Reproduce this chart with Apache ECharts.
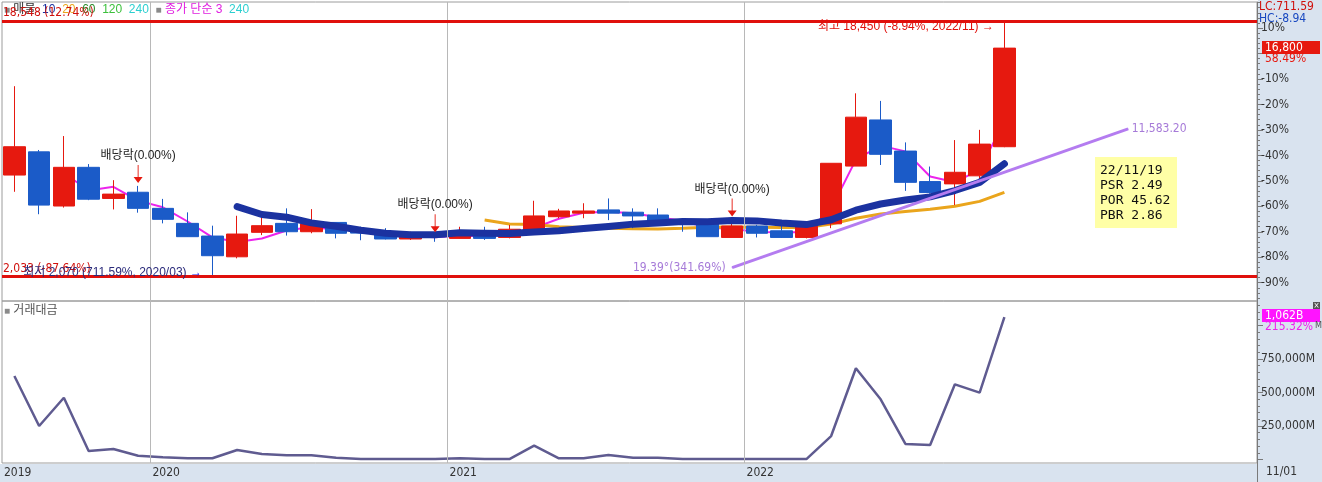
<!DOCTYPE html>
<html><head><meta charset="utf-8">
<script src="https://cdn.jsdelivr.net/npm/echarts@6/dist/echarts.min.js"></script>
<style>html,body{margin:0;padding:0;background:#fff}#c{width:1322px;height:482px}</style>
</head><body><div id="c"></div>
<script>
// ---------- data ----------
const months = ['2019/07','2019/08','2019/09','2019/10','2019/11','2019/12',
  '2020/01','2020/02','2020/03','2020/04','2020/05','2020/06','2020/07','2020/08','2020/09','2020/10','2020/11','2020/12',
  '2021/01','2021/02','2021/03','2021/04','2021/05','2021/06','2021/07','2021/08','2021/09','2021/10','2021/11','2021/12',
  '2022/01','2022/02','2022/03','2022/04','2022/05','2022/06','2022/07','2022/08','2022/09','2022/10','2022/11'];
const openP  = [8600,10100,6600,9100,7090,7490,6450,5480,4660,3320,4900,5480,4940,5540,5020,4840,4470,4700,4510,5000,4570,5050,5910,6140,6350,6200,6020,5690,5450,4570,5310,5000,4570,5450,9180,12160,10150,8180,8030,8550,10430];
const closeP = [10430,6660,9100,7040,7370,6450,5740,4620,3390,4790,5330,4940,5450,4840,4850,4470,4690,4610,4770,4510,5100,5960,6280,6280,6140,5960,5530,5460,4620,5310,4840,4570,5310,9360,12340,9940,8130,7470,8780,10600,16800];
const lowP   = [7520,6070,6500,6980,6380,6170,5480,4600,2070,3220,4720,4690,4840,4510,4390,4440,4410,4290,4500,4410,4510,4870,5810,5810,5690,5170,5380,4940,4620,4570,4570,4540,4510,5170,9180,9250,7580,7400,6660,8270,10400];
const highP  = [14340,10220,11120,9310,8270,7900,7060,6190,5330,5970,6140,6450,6400,5540,5260,5170,4940,4720,5260,5260,5380,6940,6420,6780,7090,6450,6450,5690,5450,5730,5380,5310,5590,9360,13880,13390,10710,9150,10860,11520,18450];
const ma3  = [null,null,8730,7600,7840,6950,6520,5600,4580,4270,4500,5020,5240,5070,5050,4720,4670,4590,4690,4630,4790,5190,5780,6170,6230,6130,5870,5650,5200,5130,4920,4910,4910,6420,9600,10500,10130,8510,8130,8950,12070];
const ma10 = [null,null,null,null,null,null,null,null,null,6560,6050,5880,5510,5290,5040,4840,4740,4740,4870,4840,4820,4920,5010,5150,5280,5430,5510,5600,5580,5660,5640,5500,5400,5710,6330,6730,6990,7190,7600,8130,9330];
const ma20 = [null,null,null,null,null,null,null,null,null,null,null,null,null,null,null,null,null,null,null,5700,5440,5400,5260,5220,5160,5140,5120,5170,5230,5250,5230,5210,5210,5430,5810,6080,6250,6390,6590,6900,7480];
const tradeValue = [623000,250000,461000,63000,78000,28000,16000,9000,9000,71000,41000,31000,31000,13000,4000,3000,3000,3000,9000,3000,3000,103000,9000,9000,34000,13000,13000,3000,3000,3000,3000,3000,3000,175000,681000,449000,116000,108000,561000,499000,1062000];
const yearLabels = ['2019','2020','2021','2022'];
const yearStartIdx = [0,6,18,30];
const dividendIdx = [5,17,29];
const trendIdx = [29,45];
const trendVal = [2622.5,11583.2];
const topLinePrice = 18548, bottomLinePrice = 2033;
const highestIdx = 40, lowestIdx = 8;
const basePrice = 16452;
const pctSteps = [-90,-80,-70,-60,-50,-40,-30,-20,-10,0,10];
const volSteps = [250000,500000,750000];
const infoLines = ['22/11/19','PSR 2.49','POR 45.62','PBR 2.86'];

// ---------- helpers ----------
const NUM = "'Liberation Sans Narrow','DejaVu Sans Condensed','Liberation Sans','Noto Sans CJK KR',sans-serif";
const KOR = "'Liberation Sans Narrow','Liberation Sans','Noto Sans CJK KR',sans-serif";
const RED = '#e6190f', BLUE = '#1b5bc8', PANEL = '#d9e3ef';
const fmt = v => v.toLocaleString('en-US');
const pct = (a,b) => ((a/b-1)*100).toFixed(2) + '%';
const xMin = -0.5, xMax = 50.206;
const yMin0 = 465, yMax0 = 19779;
const yMin1 = -26119, yMax1 = 1182836;
const yearBounds = yearStartIdx.map(i => i - 0.5);
const majorTicks = pctSteps.map(p => basePrice*(1+p/100));
const labelTicks = pctSteps.filter(p => p !== 0).map(p => basePrice*(1+p/100));
const minorTicks = []; for (let k=-48;k<=10;k++) minorTicks.push(basePrice*(1+k/50));
const volMinor = []; for (let v=0; v<=1150000; v+=50000) volMinor.push(v);
const volMajor = [0].concat(volSteps, [1000000]);

const candleData = months.map((m,i)=>[i, openP[i], closeP[i], lowP[i], highP[i]]);
const toXY = arr => arr.map((v,i)=> v==null ? [i,null] : [i,v]);
const lastClose = closeP[closeP.length-1];

const yearLineMark = {
  silent:true, symbol:['none','none'], label:{show:false},
  lineStyle:{color:'#b8b8b8', width:1, type:'solid'},
  data: yearBounds.slice(1).map(b=>({xAxis:b}))
};

const arrowPath = 'path://M4.5,0L5.5,0L5.5,12L10,12L5,18L0,12L4.5,12Z';
const offLine = {show:false, onZero:false};

const option = {
  animation:false,
  backgroundColor:'#ffffff',
  textStyle:{fontFamily:NUM},
  grid:[
    {left:2, top:2, width:1255, height:299, show:true, borderColor:'#9c9c9c', borderWidth:1},
    {left:2, top:301, width:1255, height:162, show:true, borderColor:'#9c9c9c', borderWidth:1},
    {left:2, top:2, width:1255, height:299, show:false},
    {left:2, top:301, width:1255, height:162, show:false}
  ],
  xAxis:[
    {type:'value', gridIndex:0, min:xMin, max:xMax, show:false, axisLine:offLine},
    {type:'value', gridIndex:1, min:xMin, max:xMax, position:'bottom',
      axisLine:offLine, axisTick:{show:false}, splitLine:{show:false},
      axisLabel:{customValues:yearBounds, formatter:v=>{const k=yearBounds.findIndex(b=>Math.abs(b-v)<1e-6);return k>=0?yearLabels[k]:'';},
        align:'left', margin:4, color:'#333', fontSize:12, fontFamily:NUM, padding:[0,0,0,2]}},
    {type:'value', gridIndex:2, min:xMin, max:xMax, show:false, axisLine:offLine},
    {type:'value', gridIndex:3, min:xMin, max:xMax, show:false, axisLine:offLine}
  ],
  yAxis:[
    {type:'value', gridIndex:0, position:'right', min:yMin0, max:yMax0, splitLine:{show:false},
      axisLine:{show:true, onZero:false, lineStyle:{color:'#7a7a7a'}},
      axisTick:{show:true, length:6, customValues:majorTicks, lineStyle:{color:'#7a7a7a'}},
      axisLabel:{customValues:labelTicks, formatter:v=>Math.round((v/basePrice-1)*100)+'%', color:'#333', fontSize:12, margin:4, fontFamily:NUM}},
    {type:'value', gridIndex:1, position:'right', min:yMin1, max:yMax1, splitLine:{show:false},
      axisLine:{show:true, onZero:false, lineStyle:{color:'#7a7a7a'}},
      axisTick:{show:true, length:6, customValues:volMajor, lineStyle:{color:'#7a7a7a'}},
      axisLabel:{customValues:volSteps, formatter:v=>fmt(v)+'M', color:'#333', fontSize:12, margin:4, fontFamily:NUM}},
    {type:'value', gridIndex:2, position:'right', min:yMin0, max:yMax0, splitLine:{show:false},
      axisLine:offLine, axisLabel:{show:false},
      axisTick:{show:true, length:3, customValues:minorTicks, lineStyle:{color:'#7a7a7a'}}},
    {type:'value', gridIndex:3, position:'right', min:yMin1, max:yMax1, splitLine:{show:false},
      axisLine:offLine, axisLabel:{show:false},
      axisTick:{show:true, length:3, customValues:volMinor, lineStyle:{color:'#7a7a7a'}}}
  ],
  series:[
    {name:'종가 단순 3', type:'line', xAxisIndex:0, yAxisIndex:0, data:toXY(ma3), symbol:'none', z:1,
      lineStyle:{color:'#ec24ec', width:2}, markLine:yearLineMark},
    {name:'20', type:'line', xAxisIndex:0, yAxisIndex:0, data:toXY(ma20), symbol:'none', z:1,
      lineStyle:{color:'#eaa51c', width:3}},
    {name:'가격', type:'candlestick', xAxisIndex:0, yAxisIndex:0, data:candleData,
      encode:{x:0, y:[1,2,3,4]}, barWidth:22, z:2,
      itemStyle:{color:RED, color0:BLUE, borderColor:RED, borderColor0:BLUE, borderWidth:1},
      markLine:{silent:true, symbol:['none','none'],
        lineStyle:{color:'#e0100c', width:3, type:'solid'},
        label:{show:true, position:'insideStartTop', color:'#d0100c', fontSize:12, fontFamily:NUM, distance:[1,2]},
        data:[
          {yAxis:topLinePrice, label:{formatter:fmt(topLinePrice)+' ('+pct(topLinePrice,basePrice)+')'}},
          {yAxis:bottomLinePrice, label:{formatter:fmt(bottomLinePrice)+' ('+pct(bottomLinePrice,basePrice)+')'}}
        ]},
      markPoint:{silent:true, data:[
        ...dividendIdx.map(i=>({coord:[i, highP[i]], symbol:arrowPath, symbolSize:[9,18], symbolOffset:[0,-12],
          itemStyle:{color:RED},
          label:{show:true, position:'top', distance:3, formatter:'배당락(0.00%)', color:'#222', fontSize:12, fontFamily:KOR}})),
        {coord:[highestIdx, highP[highestIdx]], symbol:'circle', symbolSize:1, itemStyle:{color:'rgba(0,0,0,0)'},
          label:{show:true, position:'left', distance:10, offset:[0,4], color:'#e0100c', fontSize:12, fontFamily:KOR,
            formatter:'최고 '+fmt(highP[highestIdx])+' ('+pct(lastClose,highP[highestIdx])+', '+months[highestIdx]+') →'}},
        {coord:[lowestIdx, lowP[lowestIdx]], symbol:'circle', symbolSize:1, itemStyle:{color:'rgba(0,0,0,0)'},
          label:{show:true, position:'left', distance:10, offset:[0,-3], color:'#2a2a7a', fontSize:12, fontFamily:KOR,
            formatter:'최저 '+fmt(lowP[lowestIdx])+' ('+pct(lastClose,lowP[lowestIdx])+', '+months[lowestIdx]+') {a|→}',
            rich:{a:{color:'#1414e0', fontSize:12}}}}
      ]}},
    {name:'10', type:'line', xAxisIndex:0, yAxisIndex:0, data:toXY(ma10), symbol:'none', z:3,
      lineStyle:{color:'#1b32a0', width:7, cap:'round', join:'round'}},
    {name:'trend', type:'line', xAxisIndex:0, yAxisIndex:0, z:4, symbol:'circle', symbolSize:1, showSymbol:true,
      itemStyle:{color:'#b47cf0'}, lineStyle:{color:'#b47cf0', width:3},
      label:{color:'#a67ad8', fontSize:12, fontFamily:NUM},
      data:trendIdx.map((x,i)=>({value:[x, trendVal[i]],
        label:{show:true, position:i===0?'left':'right', distance:i===0?6:3,
          formatter:i===0 ? '19.39°('+pct(trendVal[1],trendVal[0])+')' : trendVal[1].toLocaleString('en-US',{minimumFractionDigits:2})}}))},
    {name:'거래대금', type:'line', xAxisIndex:1, yAxisIndex:1, data:toXY(tradeValue), symbol:'none', z:2,
      lineStyle:{color:'#5f5b90', width:2.5}, markLine:yearLineMark}
  ],
  graphic:[
    {type:'rect', z:-100, shape:{x:1258,y:0,width:64,height:482}, style:{fill:PANEL}},
    {type:'rect', z:-100, shape:{x:0,y:464,width:1322,height:18}, style:{fill:PANEL}},
    {type:'line', z:1, shape:{x1:1257.5,y1:463,x2:1257.5,y2:482}, style:{stroke:'#7a7a7a', lineWidth:1}},
    {type:'text', z:1, x:4, y:10, style:{verticalAlign:'middle', fontSize:12, fontFamily:KOR,
      text:'{sq|■} {k|매물}  {a|10}  {b|20}  {c|60}  {d|120}  {e|240}  {sq|■} {m|종가 단순 3}  {e|240}',
      rich:{sq:{fill:'#8a8a8a', fontSize:10}, k:{fill:'#333'}, a:{fill:'#1b32a0'}, b:{fill:'#eaa51c'}, c:{fill:'#2a8a2a'},
        d:{fill:'#3cc03c'}, e:{fill:'#2ccfd0'}, m:{fill:'#e020e0'}}}},
    {type:'text', z:1, x:4, y:311, style:{verticalAlign:'middle', fontSize:12, fontFamily:KOR,
      text:'{sq|■} {k|거래대금}', rich:{sq:{fill:'#8a8a8a', fontSize:10}, k:{fill:'#555'}}}},
    {type:'text', z:10, x:1259, y:7, style:{text:'LC:'+((lastClose/lowP[lowestIdx]-1)*100).toFixed(2), fill:'#d0100c', fontSize:12, fontFamily:NUM, verticalAlign:'middle'}},
    {type:'text', z:10, x:1259, y:19, style:{text:'HC:'+((lastClose/highP[highestIdx]-1)*100).toFixed(2), fill:'#1848c0', fontSize:12, fontFamily:NUM, verticalAlign:'middle'}},
    {type:'rect', z:10, shape:{x:1262,y:41,width:58,height:13}, style:{fill:RED}},
    {type:'text', z:11, x:1265, y:47.5, style:{text:fmt(lastClose), fill:'#fff', fontSize:12, fontFamily:NUM, verticalAlign:'middle'}},
    {type:'text', z:11, x:1265, y:59, style:{text:pct(lastClose, closeP[closeP.length-2]), fill:RED, fontSize:12, fontFamily:NUM, verticalAlign:'middle'}},
    {type:'rect', z:10, shape:{x:1262,y:309,width:58,height:13}, style:{fill:'#ff14ff'}},
    {type:'text', z:11, x:1265, y:315.5, style:{text:fmt(tradeValue[tradeValue.length-1]/1000)+'B', fill:'#fff', fontSize:12, fontFamily:NUM, verticalAlign:'middle'}},
    {type:'text', z:11, x:1265, y:327, style:{text:'215.32%', fill:'#ee22ee', fontSize:12, fontFamily:NUM, verticalAlign:'middle'}},
    {type:'rect', z:12, shape:{x:1313,y:302,width:7,height:7}, style:{fill:'#555'}},
    {type:'text', z:13, x:1316.5, y:305.5, style:{text:'×', fill:'#fff', fontSize:8, fontFamily:NUM, align:'center', verticalAlign:'middle'}},
    {type:'text', z:11, x:1315, y:326, style:{text:'M', fill:'#555', fontSize:9, fontFamily:NUM, verticalAlign:'middle'}},
    {type:'text', z:11, x:1266, y:472, style:{text:'11/01', fill:'#333', fontSize:12, fontFamily:NUM, verticalAlign:'middle'}},
    {type:'rect', z:10, shape:{x:1095,y:157,width:82,height:71}, style:{fill:'#ffffa6'}},
    {type:'text', z:11, x:1100, y:163, style:{text:infoLines.join('\n'), fill:'#111', fontSize:13, lineHeight:15, fontFamily:"'DejaVu Sans Mono',monospace"}}
  ]
};
const chart = echarts.init(document.getElementById('c'), null, {renderer:'canvas'});
chart.setOption(option);
</script></body></html>
